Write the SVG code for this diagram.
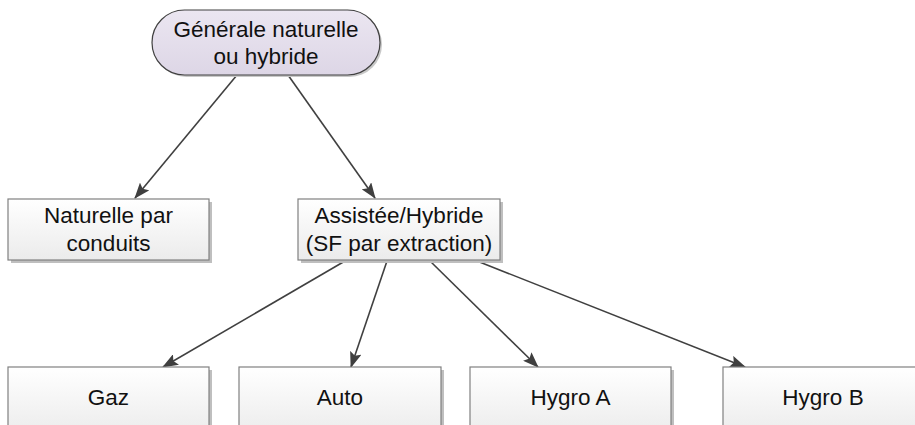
<svg xmlns="http://www.w3.org/2000/svg" width="915" height="425" viewBox="0 0 915 425">
<defs>
<linearGradient id="boxg" x1="0" y1="0" x2="0" y2="1"><stop offset="0" stop-color="#ffffff"/><stop offset="1" stop-color="#ebebeb"/></linearGradient>
<linearGradient id="topg" x1="0" y1="0" x2="0" y2="1"><stop offset="0" stop-color="#ebe6f1"/><stop offset="1" stop-color="#ddd6e6"/></linearGradient>
<marker id="arr" markerWidth="16" markerHeight="12" refX="15" refY="6" orient="auto" markerUnits="userSpaceOnUse"><path d="M0,0 L16,6 L0,12 L3,6 Z" fill="#3f3f3f"/></marker>
<style>
.box{fill:url(#boxg);stroke:#808080;stroke-width:1.2}
.sh{fill:#bfbfbf}
.t{font-family:"Liberation Sans",Arial,sans-serif;font-size:22.5px;fill:#111;text-anchor:middle}
.c{stroke:#404040;stroke-width:1.6;fill:none;marker-end:url(#arr)}
</style>
</defs>
<rect width="915" height="425" fill="#ffffff"/>
<g id="connectors">
<line class="c" x1="237" y1="75" x2="135" y2="198"/>
<line class="c" x1="288" y1="75" x2="375" y2="198"/>
<line class="c" x1="345" y1="261" x2="163" y2="367"/>
<line class="c" x1="387" y1="261" x2="351" y2="367"/>
<line class="c" x1="430" y1="261" x2="538" y2="367"/>
<line class="c" x1="477" y1="261" x2="745" y2="367"/>
</g>
<g id="n-top">
<rect x="154" y="12" width="228" height="65" rx="32.5" fill="#c8c8c8"/>
<rect x="152" y="10" width="228" height="65" rx="32.5" fill="url(#topg)" stroke="#404040" stroke-width="1.2"/>
<text class="t" x="266" y="37">Générale naturelle</text>
<text class="t" x="266" y="64">ou hybride</text>
</g>
<g id="n-naturelle">
<rect class="sh" x="11" y="202" width="201" height="61"/>
<rect class="box" x="8" y="199" width="201" height="61"/>
<text class="t" x="108.5" y="223">Naturelle par</text>
<text class="t" x="108.5" y="251">conduits</text>
</g>
<g id="n-assistee">
<rect class="sh" x="301" y="202" width="202" height="61"/>
<rect class="box" x="298" y="199" width="202" height="61"/>
<text class="t" x="399" y="223">Assistée/Hybride</text>
<text class="t" x="399" y="251">(SF par extraction)</text>
</g>
<g id="n-gaz">
<rect class="sh" x="11" y="370" width="201" height="70"/>
<rect class="box" x="8" y="367" width="201" height="70"/>
<text class="t" x="108.5" y="405">Gaz</text>
</g>
<g id="n-auto">
<rect class="sh" x="242" y="370" width="202" height="70"/>
<rect class="box" x="239" y="367" width="202" height="70"/>
<text class="t" x="340" y="405">Auto</text>
</g>
<g id="n-hygroa">
<rect class="sh" x="473" y="370" width="201" height="70"/>
<rect class="box" x="470" y="367" width="201" height="70"/>
<text class="t" x="570.5" y="405">Hygro A</text>
</g>
<g id="n-hygrob">
<rect class="sh" x="726" y="370" width="201" height="70"/>
<rect class="box" x="723" y="367" width="201" height="70"/>
<text class="t" x="823" y="405">Hygro B</text>
</g>
</svg>
